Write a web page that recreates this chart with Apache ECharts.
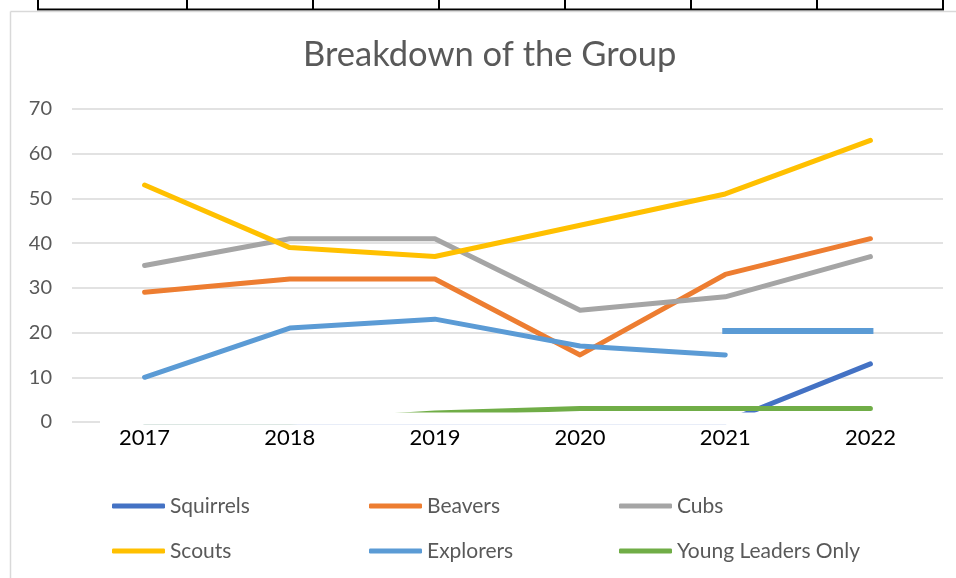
<!DOCTYPE html>
<html>
<head>
<meta charset="utf-8">
<script src="https://cdn.jsdelivr.net/npm/echarts@6/dist/echarts.min.js"></script>
<style>
  html, body { margin: 0; padding: 0; background: #fff; }
  #chart { width: 956px; height: 578px; }
</style>
</head>
<body>
<div id="chart"></div>
<script>
// values
const years = ['2017', '2018', '2019', '2020', '2021', '2022'];
const squirrels = [0, 0, 0, 0, 0, 13];
const beavers = [29, 32, 32, 15, 33, 41];
const cubs = [35, 41, 41, 25, 28, 37];
const scouts = [53, 39, 37, 44, 51, 63];
const explorers = [10, 21, 23, 17, 15, null];
const youngLeaders = [0, 0, 2, 3, 3, 3];
const explorersLevel = 20.4; // the flat bar drawn from 2021 to 2022
const yTicks = [0, 70, 10];   // min, max, step

const FONT = 'Lato';
const GREY = '#595959';

function line(name, data, color) {
  return {
    name: name,
    type: 'line',
    data: data,
    symbol: 'none',
    showSymbol: false,
    lineStyle: { color: color, width: 5, cap: 'round', join: 'round' },
    itemStyle: { color: color }
  };
}

let series = [
  line('Squirrels', squirrels, '#4472C4'),
  line('Beavers', beavers, '#ED7D31'),
  line('Cubs', cubs, '#A5A5A5'),
  line('Scouts', scouts, '#FFC000'),
  line('Explorers', explorers, '#5B9BD5'),
  line('Young Leaders Only', youngLeaders, '#70AD47')
];
series[4].markLine = {
  silent: true,
  symbol: 'none',
  label: { show: false },
  lineStyle: { color: '#5B9BD5', width: 6, type: 'solid', cap: 'square' },
  data: [[{ coord: [years[4], explorersLevel] }, { coord: [years[5], explorersLevel] }]]
};

function legendCol(names, left) {
  return {
    orient: 'vertical',
    left: left,
    top: 495,
    padding: 0,
    itemWidth: 53,
    itemHeight: 5,
    itemGap: 23,
    icon: 'roundRect',
    selectedMode: false,
    data: names,
    textStyle: { color: GREY, fontFamily: FONT, fontSize: 21, lineHeight: 22 }
  };
}

// sheet table edge above the chart and the chart frame
let tableX = [38, 187, 313, 439, 565, 691, 817, 943];
let graphics = tableX.map(function (x) {
  return { type: 'line', shape: { x1: x, y1: 0, x2: x, y2: 10 }, style: { stroke: '#000', lineWidth: 2 } };
});
graphics.push({ type: 'line', shape: { x1: 37, y1: 9.5, x2: 944, y2: 9.5 }, style: { stroke: '#000', lineWidth: 2 } });
graphics.push({ type: 'line', shape: { x1: 10.5, y1: 11.5, x2: 956, y2: 11.5 }, style: { stroke: '#d9d9d9', lineWidth: 1.5 } });
graphics.push({ type: 'line', shape: { x1: 10.5, y1: 11.5, x2: 10.5, y2: 578 }, style: { stroke: '#d9d9d9', lineWidth: 1.5 } });
// white strip hiding the bottom of the plot, as in the source picture
graphics.push({ type: 'rect', z: 100, shape: { x: 100, y: 412.5, width: 843, height: 12 }, style: { fill: '#fff' } });

let myChart = echarts.init(document.getElementById('chart'));
let option = {
  animation: false,
  backgroundColor: '#fff',
  title: {
    text: 'Breakdown of the Group',
    left: 303,
    top: 37,
    padding: 0,
    textStyle: { color: GREY, fontFamily: FONT, fontSize: 34.5, fontWeight: 'normal', lineHeight: 36 }
  },
  legend: [
    legendCol(['Squirrels', 'Scouts'], 112),
    legendCol(['Beavers', 'Explorers'], 369),
    legendCol(['Cubs', 'Young Leaders Only'], 619)
  ],
  grid: { left: 72, right: 13, top: 109, bottom: 156 },
  xAxis: {
    type: 'category',
    data: years,
    axisLine: { show: false },
    axisTick: { show: false },
    axisLabel: { color: '#000', fontFamily: FONT, fontSize: 22, margin: 5 }
  },
  yAxis: {
    type: 'value',
    min: yTicks[0],
    max: yTicks[1],
    interval: yTicks[2],
    axisLine: { show: false },
    axisTick: { show: false },
    axisLabel: { color: GREY, fontFamily: FONT, fontSize: 20, margin: 20 },
    splitLine: { lineStyle: { color: '#d9d9d9', width: 1.5 } }
  },
  graphic: graphics,
  series: series
};
myChart.setOption(option);
</script>
</body>
</html>
